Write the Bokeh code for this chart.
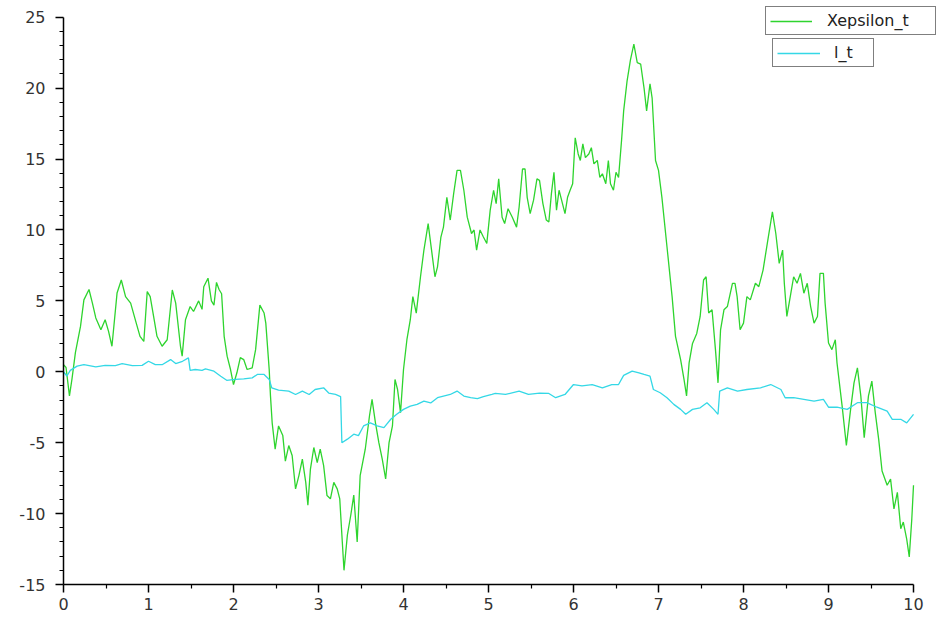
from bokeh.plotting import figure
from bokeh.models import Range1d, FixedTicker, Legend, LegendItem
from bokeh.embed import file_html
from bokeh.resources import INLINE

# ---- data ----
t_xeps = [0.00, 0.03, 0.07, 0.10, 0.14, 0.20, 0.24, 0.30, 0.34, 0.38, 0.44, 0.49, 0.53, 0.57,
          0.63, 0.68, 0.73, 0.79, 0.85, 0.90, 0.945, 0.985, 1.02, 1.06, 1.10, 1.16, 1.22,
          1.28, 1.32, 1.376, 1.396, 1.435, 1.49, 1.53, 1.59, 1.63, 1.65, 1.70, 1.74, 1.77,
          1.80, 1.83, 1.86, 1.89, 1.925, 1.965, 2.00, 2.04, 2.08, 2.12, 2.16, 2.22, 2.26,
          2.31, 2.36, 2.38, 2.42, 2.435, 2.455, 2.49, 2.53, 2.58, 2.61, 2.65, 2.69, 2.73,
          2.77, 2.81, 2.85, 2.875, 2.905, 2.945, 2.985, 3.02, 3.06, 3.10, 3.14, 3.18, 3.22,
          3.25, 3.28, 3.30, 3.34, 3.38, 3.415, 3.455, 3.49, 3.55, 3.60, 3.63, 3.67, 3.71,
          3.75, 3.79, 3.83, 3.87, 3.90, 3.93, 3.965, 4.00, 4.04, 4.08, 4.11, 4.15, 4.20,
          4.24, 4.29, 4.33, 4.37, 4.40, 4.44, 4.47, 4.51, 4.55, 4.59, 4.63, 4.67, 4.71,
          4.75, 4.80, 4.83, 4.86, 4.90, 4.94, 4.98, 5.02, 5.06, 5.09, 5.12, 5.16, 5.19,
          5.23, 5.28, 5.33, 5.36, 5.40, 5.43, 5.455, 5.49, 5.53, 5.57, 5.60, 5.64, 5.68,
          5.71, 5.74, 5.77, 5.80, 5.83, 5.86, 5.90, 5.93, 5.96, 5.99, 6.02, 6.055, 6.08,
          6.11, 6.14, 6.18, 6.21, 6.24, 6.28, 6.31, 6.34, 6.38, 6.41, 6.435, 6.47, 6.50,
          6.53, 6.565, 6.59, 6.63, 6.67, 6.71, 6.75, 6.79, 6.83, 6.86, 6.90, 6.925, 6.965,
          7.00, 7.04, 7.10, 7.16, 7.20, 7.26, 7.30, 7.33, 7.36, 7.40, 7.45, 7.49, 7.53,
          7.56, 7.59, 7.63, 7.67, 7.70, 7.73, 7.77, 7.81, 7.87, 7.90, 7.925, 7.96, 8.00,
          8.04, 8.08, 8.14, 8.18, 8.23, 8.28, 8.34, 8.38, 8.42, 8.46, 8.48, 8.51, 8.55,
          8.59, 8.63, 8.67, 8.71, 8.75, 8.79, 8.83, 8.87, 8.90, 8.94, 8.96, 9.00, 9.04,
          9.08, 9.10, 9.16, 9.21, 9.26, 9.30, 9.34, 9.38, 9.42, 9.47, 9.51, 9.55, 9.59,
          9.63, 9.69, 9.73, 9.77, 9.81, 9.85, 9.88, 9.92, 9.95, 9.98, 10.00]
xepsilon_t = [0.5, 0.3, -1.7, -0.5, 1.35, 3.2, 5.07, 5.8, 4.84, 3.8, 2.96, 3.67, 2.85, 1.8,
              5.55, 6.47, 5.3, 4.84, 3.55, 2.5, 2.14, 5.65, 5.3, 3.9, 2.5, 1.8, 2.26,
              5.77, 4.84, 1.8, 1.1, 3.67, 4.6, 4.25, 5.0, 4.4, 6.0, 6.6, 5.0, 4.7,
              6.3, 5.8, 5.5, 2.5, 1.1, 0.16, -0.9, -0.07, 1.0, 0.86, 0.16, 0.28, 1.56,
              4.7, 4.14, 3.43, 0.16, -1.7, -3.6, -5.46, -3.82, -4.5, -6.3, -5.2, -5.9, -8.26,
              -7.3, -6.16, -7.8, -9.4, -6.86, -5.34, -6.4, -5.46, -6.6, -8.73, -8.96, -7.8, -8.26,
              -8.96, -12.0, -14.0, -11.5, -10.1, -8.7, -12.0, -7.33, -5.46, -3.1, -1.95, -3.6, -5.0,
              -6.16, -7.56, -5.0, -3.82, -0.54, -1.25, -2.88, 0.16, 2.26, 3.67, 5.3, 4.14, 6.7,
              8.58, 10.45, 8.58, 6.7, 7.4, 9.5, 10.2, 12.3, 10.7, 12.56, 14.2, 14.2, 12.8,
              10.9, 9.75, 10.0, 8.58, 10.0, 9.5, 9.05, 11.4, 12.8, 11.86, 13.6, 10.9, 10.45,
              11.5, 10.9, 10.2, 11.6, 14.3, 14.3, 12.3, 11.15, 12.1, 13.6, 13.5, 11.86, 10.7,
              10.56, 12.56, 14.07, 11.4, 12.8, 12.1, 11.15, 12.3, 12.8, 13.26, 16.5, 15.36, 14.9,
              16.07, 15.1, 15.36, 15.8, 14.66, 14.9, 13.7, 13.96, 13.26, 14.9, 13.26, 12.8, 14.07,
              13.7, 16.3, 18.4, 20.5, 22.0, 23.1, 21.8, 21.7, 20.0, 18.4, 20.3, 19.3, 14.9,
              14.2, 12.3, 8.8, 5.3, 2.5, 0.86, -0.54, -1.7, 0.63, 2.0, 2.7, 3.9, 6.47,
              6.7, 4.14, 4.37, 1.56, -0.78, 2.96, 4.37, 4.6, 6.24, 6.24, 5.3, 2.96, 3.43,
              5.3, 5.07, 6.24, 6.0, 7.17, 9.05, 11.27, 9.75, 7.64, 8.58, 6.24, 3.9, 5.3,
              6.7, 6.24, 6.94, 5.54, 6.24, 4.6, 3.43, 3.9, 6.94, 6.94, 4.84, 2.03, 1.56,
              2.26, 0.63, -2.4, -5.2, -2.65, -0.78, 0.28, -1.7, -4.64, -1.7, -0.66, -2.88, -4.75,
              -7.0, -8.0, -7.56, -9.67, -8.5, -11.07, -10.6, -11.8, -13.06, -10.37, -8.0]

t_l = [0.00, 0.04, 0.08, 0.16, 0.24, 0.38, 0.49, 0.61, 0.69, 0.81, 0.925, 1.00, 1.08, 1.16,
       1.26, 1.32, 1.40, 1.47, 1.49, 1.55, 1.63, 1.67, 1.77, 1.85, 1.92, 2.02, 2.12, 2.22,
       2.28, 2.36, 2.42, 2.45, 2.53, 2.65, 2.73, 2.81, 2.89, 2.96, 3.06, 3.12, 3.20, 3.26,
       3.275, 3.34, 3.415, 3.47, 3.53, 3.61, 3.69, 3.77, 3.85, 3.92, 4.00, 4.08, 4.16, 4.24,
       4.32, 4.40, 4.47, 4.55, 4.63, 4.71, 4.79, 4.87, 4.94, 5.04, 5.08, 5.20, 5.36, 5.47,
       5.60, 5.71, 5.79, 5.90, 6.00, 6.10, 6.22, 6.34, 6.45, 6.53, 6.59, 6.69, 6.77, 6.83,
       6.90, 6.94, 7.02, 7.10, 7.18, 7.26, 7.32, 7.40, 7.49, 7.57, 7.65, 7.70, 7.72, 7.81,
       7.93, 8.04, 8.20, 8.32, 8.44, 8.49, 8.59, 8.71, 8.83, 8.94, 9.00, 9.10, 9.22, 9.34,
       9.45, 9.57, 9.69, 9.75, 9.85, 9.92, 10.00]
l_t = [0.0, -0.3, 0.1, 0.4, 0.5, 0.35, 0.45, 0.44, 0.58, 0.44, 0.45, 0.74, 0.5, 0.5,
       0.86, 0.58, 0.74, 0.98, 0.1, 0.16, 0.1, 0.2, 0.04, -0.31, -0.6, -0.54, -0.5, -0.43,
       -0.19, -0.19, -0.54, -1.13, -1.29, -1.36, -1.6, -1.36, -1.6, -1.25, -1.13, -1.5, -1.6, -1.75,
       -5.0, -4.75, -4.4, -4.5, -3.82, -3.6, -3.82, -3.94, -3.35, -3.0, -2.65, -2.42, -2.3, -2.07,
       -2.2, -1.83, -1.71, -1.6, -1.36, -1.71, -1.83, -1.9, -1.76, -1.6, -1.53, -1.6, -1.36, -1.6,
       -1.5, -1.53, -1.83, -1.6, -0.9, -1.0, -0.9, -1.13, -0.9, -0.9, -0.25, 0.04, -0.07, -0.19,
       -0.31, -1.25, -1.48, -1.83, -2.3, -2.65, -3.0, -2.65, -2.54, -2.18, -2.65, -3.0, -1.36, -1.13,
       -1.36, -1.25, -1.13, -0.9, -1.25, -1.83, -1.83, -1.95, -2.07, -1.95, -2.5, -2.5, -2.65, -2.18,
       -2.18, -2.5, -2.77, -3.35, -3.35, -3.6, -3.0]

x_ticks = [0, 1, 2, 3, 4, 5, 6, 7, 8, 9, 10]
x_tick_labels = ["0", "1", "2", "3", "4", "5", "6", "7", "8", "9", "10"]
x_minor = [0.5, 1.5, 2.5, 3.5, 4.5, 5.5, 6.5, 7.5, 8.5, 9.5]
y_ticks = [-15, -10, -5, 0, 5, 10, 15, 20, 25]
y_tick_labels = ["-15", "-10", "-5", "0", "5", "10", "15", "20", "25"]
y_minor = [v for v in range(-15, 26) if v % 5 != 0]

series_names = ["Xepsilon_t", "l_t"]
GREEN = "#2ed42e"
CYAN = "#34d8e6"
FONT = "DejaVu Sans"

# the frame reaches the page edges so the legends (which sit partly outside the
# data area in the original) are not clipped; the axes themselves are bounded.
p = figure(width=938, height=612, output_backend="svg", toolbar_location=None,
           x_range=Range1d(0, 10.294), y_range=Range1d(-15, 26.18),
           min_border_left=63, min_border_right=0, min_border_top=0, min_border_bottom=0)
p.grid.visible = False
p.outline_line_color = None
p.background_fill_color = "white"

r1 = p.line(t_xeps, xepsilon_t, line_color=GREEN, line_width=1.3)
r2 = p.line(t_l, l_t, line_color=CYAN, line_width=1.3)

for ax in (p.xaxis[0], p.yaxis[0]):
    ax.axis_line_color = "black"
    ax.axis_line_width = 1.5
    ax.major_tick_line_color = "black"
    ax.minor_tick_line_color = "black"
    ax.major_tick_line_width = 1.5
    ax.minor_tick_line_width = 1.2
    ax.major_tick_in = 0
    ax.minor_tick_in = 0
    ax.major_tick_out = 8
    ax.minor_tick_out = 4
    ax.major_label_text_font = FONT
    ax.major_label_text_font_size = "16px"
    ax.major_label_text_color = "#333333"

p.xaxis.bounds = (0, 10)
p.yaxis.bounds = (-15, 25)
p.xaxis.ticker = FixedTicker(ticks=x_ticks, minor_ticks=x_minor)
p.yaxis.ticker = FixedTicker(ticks=y_ticks, minor_ticks=y_minor)
p.xaxis.major_label_overrides = dict(zip(x_ticks, x_tick_labels))
p.yaxis.major_label_overrides = dict(zip(y_ticks, y_tick_labels))
p.xaxis.major_label_standoff = 5
p.yaxis.major_label_standoff = 10

common = dict(border_line_color="black", border_line_width=1.5, background_fill_color="white",
              background_fill_alpha=1.0, padding=4, spacing=0, margin=0,
              glyph_height=16, label_text_font=FONT, label_text_font_size="16px",
              label_text_color="#222222")
leg1 = Legend(items=[LegendItem(label=series_names[0], renderers=[r1])],
              location=(702, 549), glyph_width=42, label_standoff=15, label_width=104, **common)
leg2 = Legend(items=[LegendItem(label=series_names[1], renderers=[r2])],
              location=(709, 517), glyph_width=43, label_standoff=14, label_width=35, **common)
p.add_layout(leg1)
p.add_layout(leg2)

open("out.html", "w").write(file_html(p, INLINE))
